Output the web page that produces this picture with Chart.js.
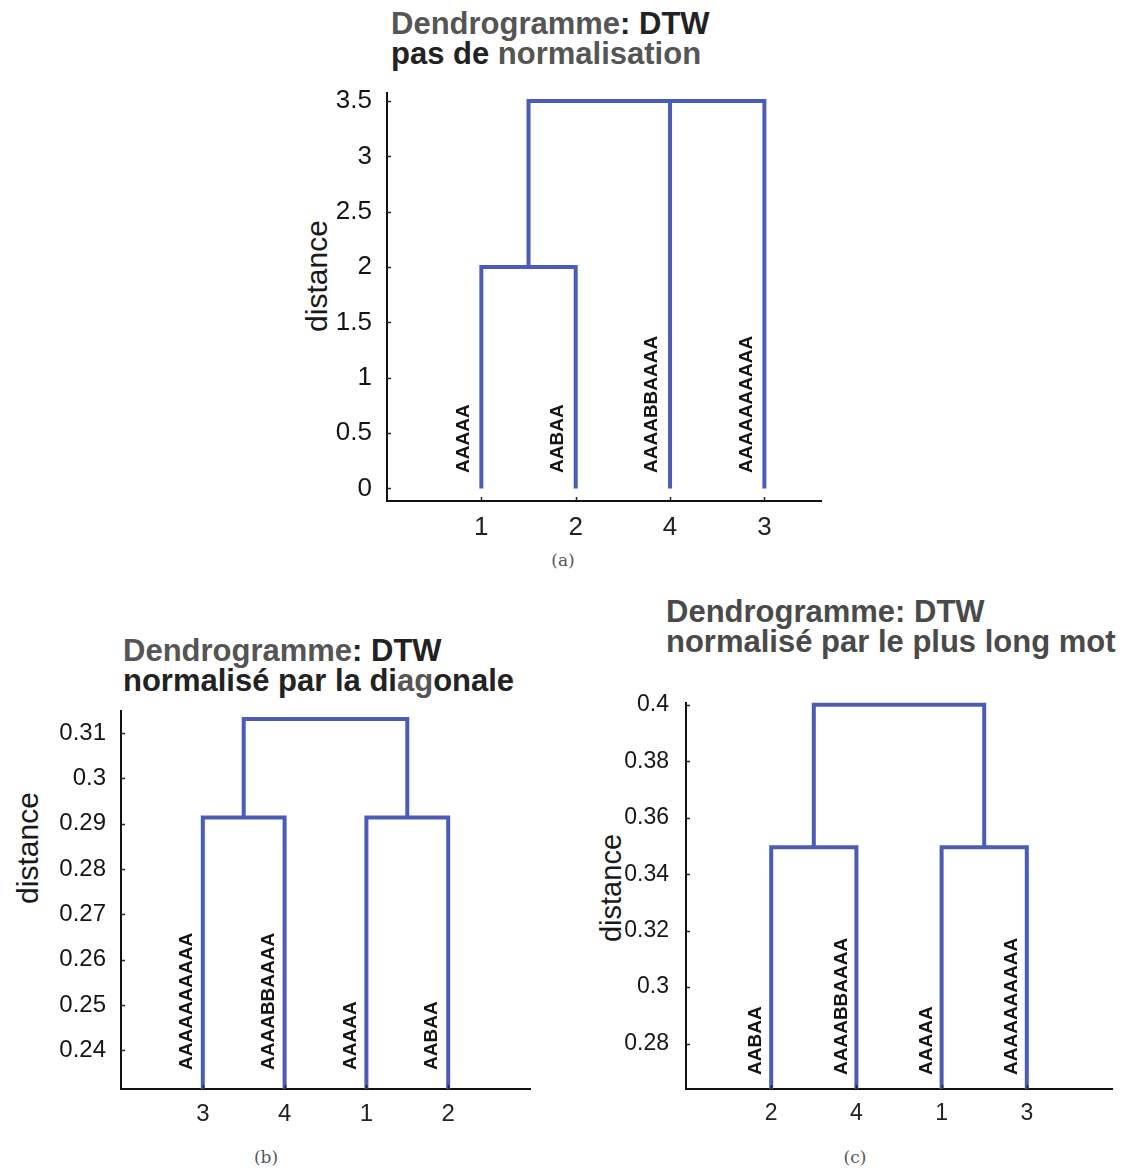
<!DOCTYPE html>
<html>
<head>
<meta charset="utf-8">
<script src="https://cdn.jsdelivr.net/npm/chart.js@4.4.1/dist/chart.umd.min.js"></script>
<style>
  html, body { margin: 0; padding: 0; background: #ffffff; }
  #wrap { position: relative; width: 1134px; height: 1170px; background: #ffffff; overflow: hidden; }
  canvas { position: absolute; }
  .ttl { position: absolute; font-family: "Liberation Sans", Arial, sans-serif; font-weight: bold;
         font-size: 31px; line-height: 30px; color: #222; white-space: nowrap; }
  .ttl .g { color: #555; }
  .ylab { position: absolute; font-family: "Liberation Sans", Arial, sans-serif; font-size: 30px;
          color: #1a1a1a; white-space: nowrap; transform: translate(-50%, -50%) rotate(-90deg); }
  .cap { position: absolute; font-family: "DejaVu Serif", "Liberation Serif", serif; font-size: 17px;
         color: #555; transform: translate(-50%, -50%); white-space: nowrap; }
</style>
</head>
<body>
<div id="wrap">
  <div class="ttl" style="left:391px; top:9px;"><span class="g">Dendrogramme</span>: DTW<br>pas de <span class="g">normalisation</span></div>
  <div class="ttl" style="left:123px; top:636px;"><span class="g">Dendrogramme</span>: DTW<br>normalisé par la di<span class="g">ag</span>onale</div>
  <div class="ttl" style="left:666px; top:597px; color:#4a4a4a;">Dendrogramme: DTW<br>normalisé par le plus long mot</div>

  <div class="ylab" style="left:317px; top:276px;">distance</div>
  <div class="ylab" style="left:28px; top:848px;">distance</div>
  <div class="ylab" style="left:611px; top:888px; font-size:29px;">distance</div>

  <div class="cap" style="left:563px; top:560px;">(a)</div>
  <div class="cap" style="left:266px; top:1157px;">(b)</div>
  <div class="cap" style="left:855px; top:1157px;">(c)</div>

  <canvas id="cA" width="560" height="500" style="left:290px; top:60px;"></canvas>
  <canvas id="cB" width="560" height="450" style="left:0px; top:690px;"></canvas>
  <canvas id="cC" width="554" height="460" style="left:580px; top:680px;"></canvas>
</div>
<script>
// ---------------- DATA ----------------
// (a) DTW, pas de normalisation
const leafOrderA = ['1', '2', '4', '3'];
const leafWordsA = ['AAAAA', 'AABAA', 'AAAABBAAAA', 'AAAAAAAAAA'];
const mergesA = [[0, 1, 2.0], [4, 2, 3.5], [5, 3, 3.5]];   // [node, node, distance]
const yTicksA = [0, 0.5, 1, 1.5, 2, 2.5, 3, 3.5];

// (b) DTW normalisé par la diagonale
const leafOrderB = ['3', '4', '1', '2'];
const leafWordsB = ['AAAAAAAAAA', 'AAAABBAAAA', 'AAAAA', 'AABAA'];
const mergesB = [[0, 1, 0.2914], [2, 3, 0.2914], [4, 5, 0.3131]];
const yTicksB = [0.24, 0.25, 0.26, 0.27, 0.28, 0.29, 0.3, 0.31];

// (c) DTW normalisé par le plus long mot
const leafOrderC = ['2', '4', '1', '3'];
const leafWordsC = ['AABAA', 'AAAABBAAAA', 'AAAAA', 'AAAAAAAAAA'];
const mergesC = [[0, 1, 0.3495], [2, 3, 0.3495], [4, 5, 0.4]];
const yTicksC = [0.28, 0.3, 0.32, 0.34, 0.36, 0.38, 0.4];

const leafPositions = [1, 2, 3, 4];

// ---------------- BUILD ----------------
const LINE_COLOR = '#4a5cb5';

function buildLinks(merges) {
  const nodes = leafPositions.map(p => ({ x: p, y: 0 }));
  const sets = [];
  merges.forEach(([a, b, h]) => {
    const A = nodes[a], B = nodes[b];
    sets.push({
      data: [{ x: A.x, y: A.y }, { x: A.x, y: h }, { x: B.x, y: h }, { x: B.x, y: B.y }],
      showLine: true, borderColor: LINE_COLOR, backgroundColor: LINE_COLOR,
      borderWidth: 4, pointRadius: 0, pointHoverRadius: 0, fill: false, tension: 0,
      borderJoinStyle: 'miter', borderCapStyle: 'butt',
      clip: { left: 6, top: 6, right: 6, bottom: 0 }
    });
    nodes.push({ x: (A.x + B.x) / 2, y: h });
  });
  return sets;
}

const leafLabels = {
  id: 'leafLabels',
  afterDatasetsDraw(chart, args, o) {
    const { ctx, chartArea } = chart;
    const xs = chart.scales.x, ys = chart.scales.y;
    ctx.save();
    // inward tick marks (MATLAB style)
    ctx.strokeStyle = '#222'; ctx.lineWidth = 1.5;
    ys.ticks.forEach(t => {
      const y = Math.round(ys.getPixelForValue(t.value)) + 0.5;
      ctx.beginPath(); ctx.moveTo(chartArea.left, y); ctx.lineTo(chartArea.left + 4, y); ctx.stroke();
    });
    xs.ticks.forEach(t => {
      const x = Math.round(xs.getPixelForValue(t.value)) + 0.5;
      ctx.beginPath(); ctx.moveTo(x, chartArea.bottom); ctx.lineTo(x, chartArea.bottom - 4); ctx.stroke();
    });
    // leaf words
    ctx.font = o.font; ctx.fillStyle = o.color;
    ctx.textAlign = 'left'; ctx.textBaseline = 'middle';
    o.words.forEach((w, i) => {
      const x = xs.getPixelForValue(leafPositions[i]) + o.dx;
      const y = chartArea.bottom - o.gap;
      ctx.save(); ctx.translate(x, y); ctx.rotate(-Math.PI / 2); ctx.fillText(w, 0, 0); ctx.restore();
    });
    ctx.restore();
  }
};

function makeChart(id, cfg) {
  const tickFont = { family: '"Liberation Sans", Arial, sans-serif', size: cfg.tickSize };
  return new Chart(document.getElementById(id), {
    type: 'scatter',
    data: { datasets: buildLinks(cfg.merges) },
    plugins: [leafLabels],
    options: {
      responsive: false, animation: false, devicePixelRatio: 1,
      layout: { padding: cfg.padding },
      plugins: {
        legend: { display: false }, tooltip: { enabled: false }, title: { display: false },
        leafLabels: { words: cfg.words, font: 'bold 19px "Liberation Sans", Arial, sans-serif',
                      color: '#151515', dx: cfg.labelDx, gap: cfg.labelGap }
      },
      scales: {
        x: {
          type: 'linear', min: 0, max: cfg.xMax,
          grid: { display: false },
          border: { display: true, color: '#111', width: 2 },
          afterBuildTicks: s => { s.ticks = leafPositions.map(v => ({ value: v })); },
          afterFit: s => { s.height = cfg.xHeight; },
          ticks: { font: tickFont, color: '#222', padding: cfg.xPad, maxRotation: 0,
                   callback: (v, i) => cfg.order[i] }
        },
        y: {
          type: 'linear', min: cfg.yMin, max: cfg.yMax,
          grid: { display: false },
          border: { display: true, color: '#111', width: 2 },
          afterBuildTicks: s => { s.ticks = cfg.yTicks.map(v => ({ value: v })); },
          afterFit: s => { s.width = cfg.yWidth; },
          ticks: { font: tickFont, color: '#151515', padding: cfg.yPad, callback: v => String(v) }
        }
      }
    }
  });
}

makeChart('cA', {
  merges: mergesA, words: leafWordsA, order: leafOrderA, yTicks: yTicksA,
  yMin: -0.113, yMax: 3.572, xMax: 4.6, tickSize: 26,
  padding: { top: 33, right: 29, bottom: 9, left: 0 }, yWidth: 97, xHeight: 50, xPad: 3, yPad: 7,
  labelDx: -18, labelGap: 28
});
makeChart('cB', {
  merges: mergesB, words: leafWordsB, order: leafOrderB, yTicks: yTicksB,
  yMin: 0.2315, yMax: 0.3148, xMax: 5, tickSize: 24,
  padding: { top: 16, right: 30, bottom: 6, left: 0 }, yWidth: 121, xHeight: 45, xPad: 3, yPad: 7,
  labelDx: -16, labelGap: 19
});
makeChart('cC', {
  merges: mergesC, words: leafWordsC, order: leafOrderC, yTicks: yTicksC,
  yMin: 0.2639, yMax: 0.4007, xMax: 5, tickSize: 23,
  padding: { top: 16, right: 22, bottom: 6, left: 0 }, yWidth: 106, xHeight: 45, xPad: 3, yPad: 9,
  labelDx: -15, labelGap: 14
});
</script>
</body>
</html>
